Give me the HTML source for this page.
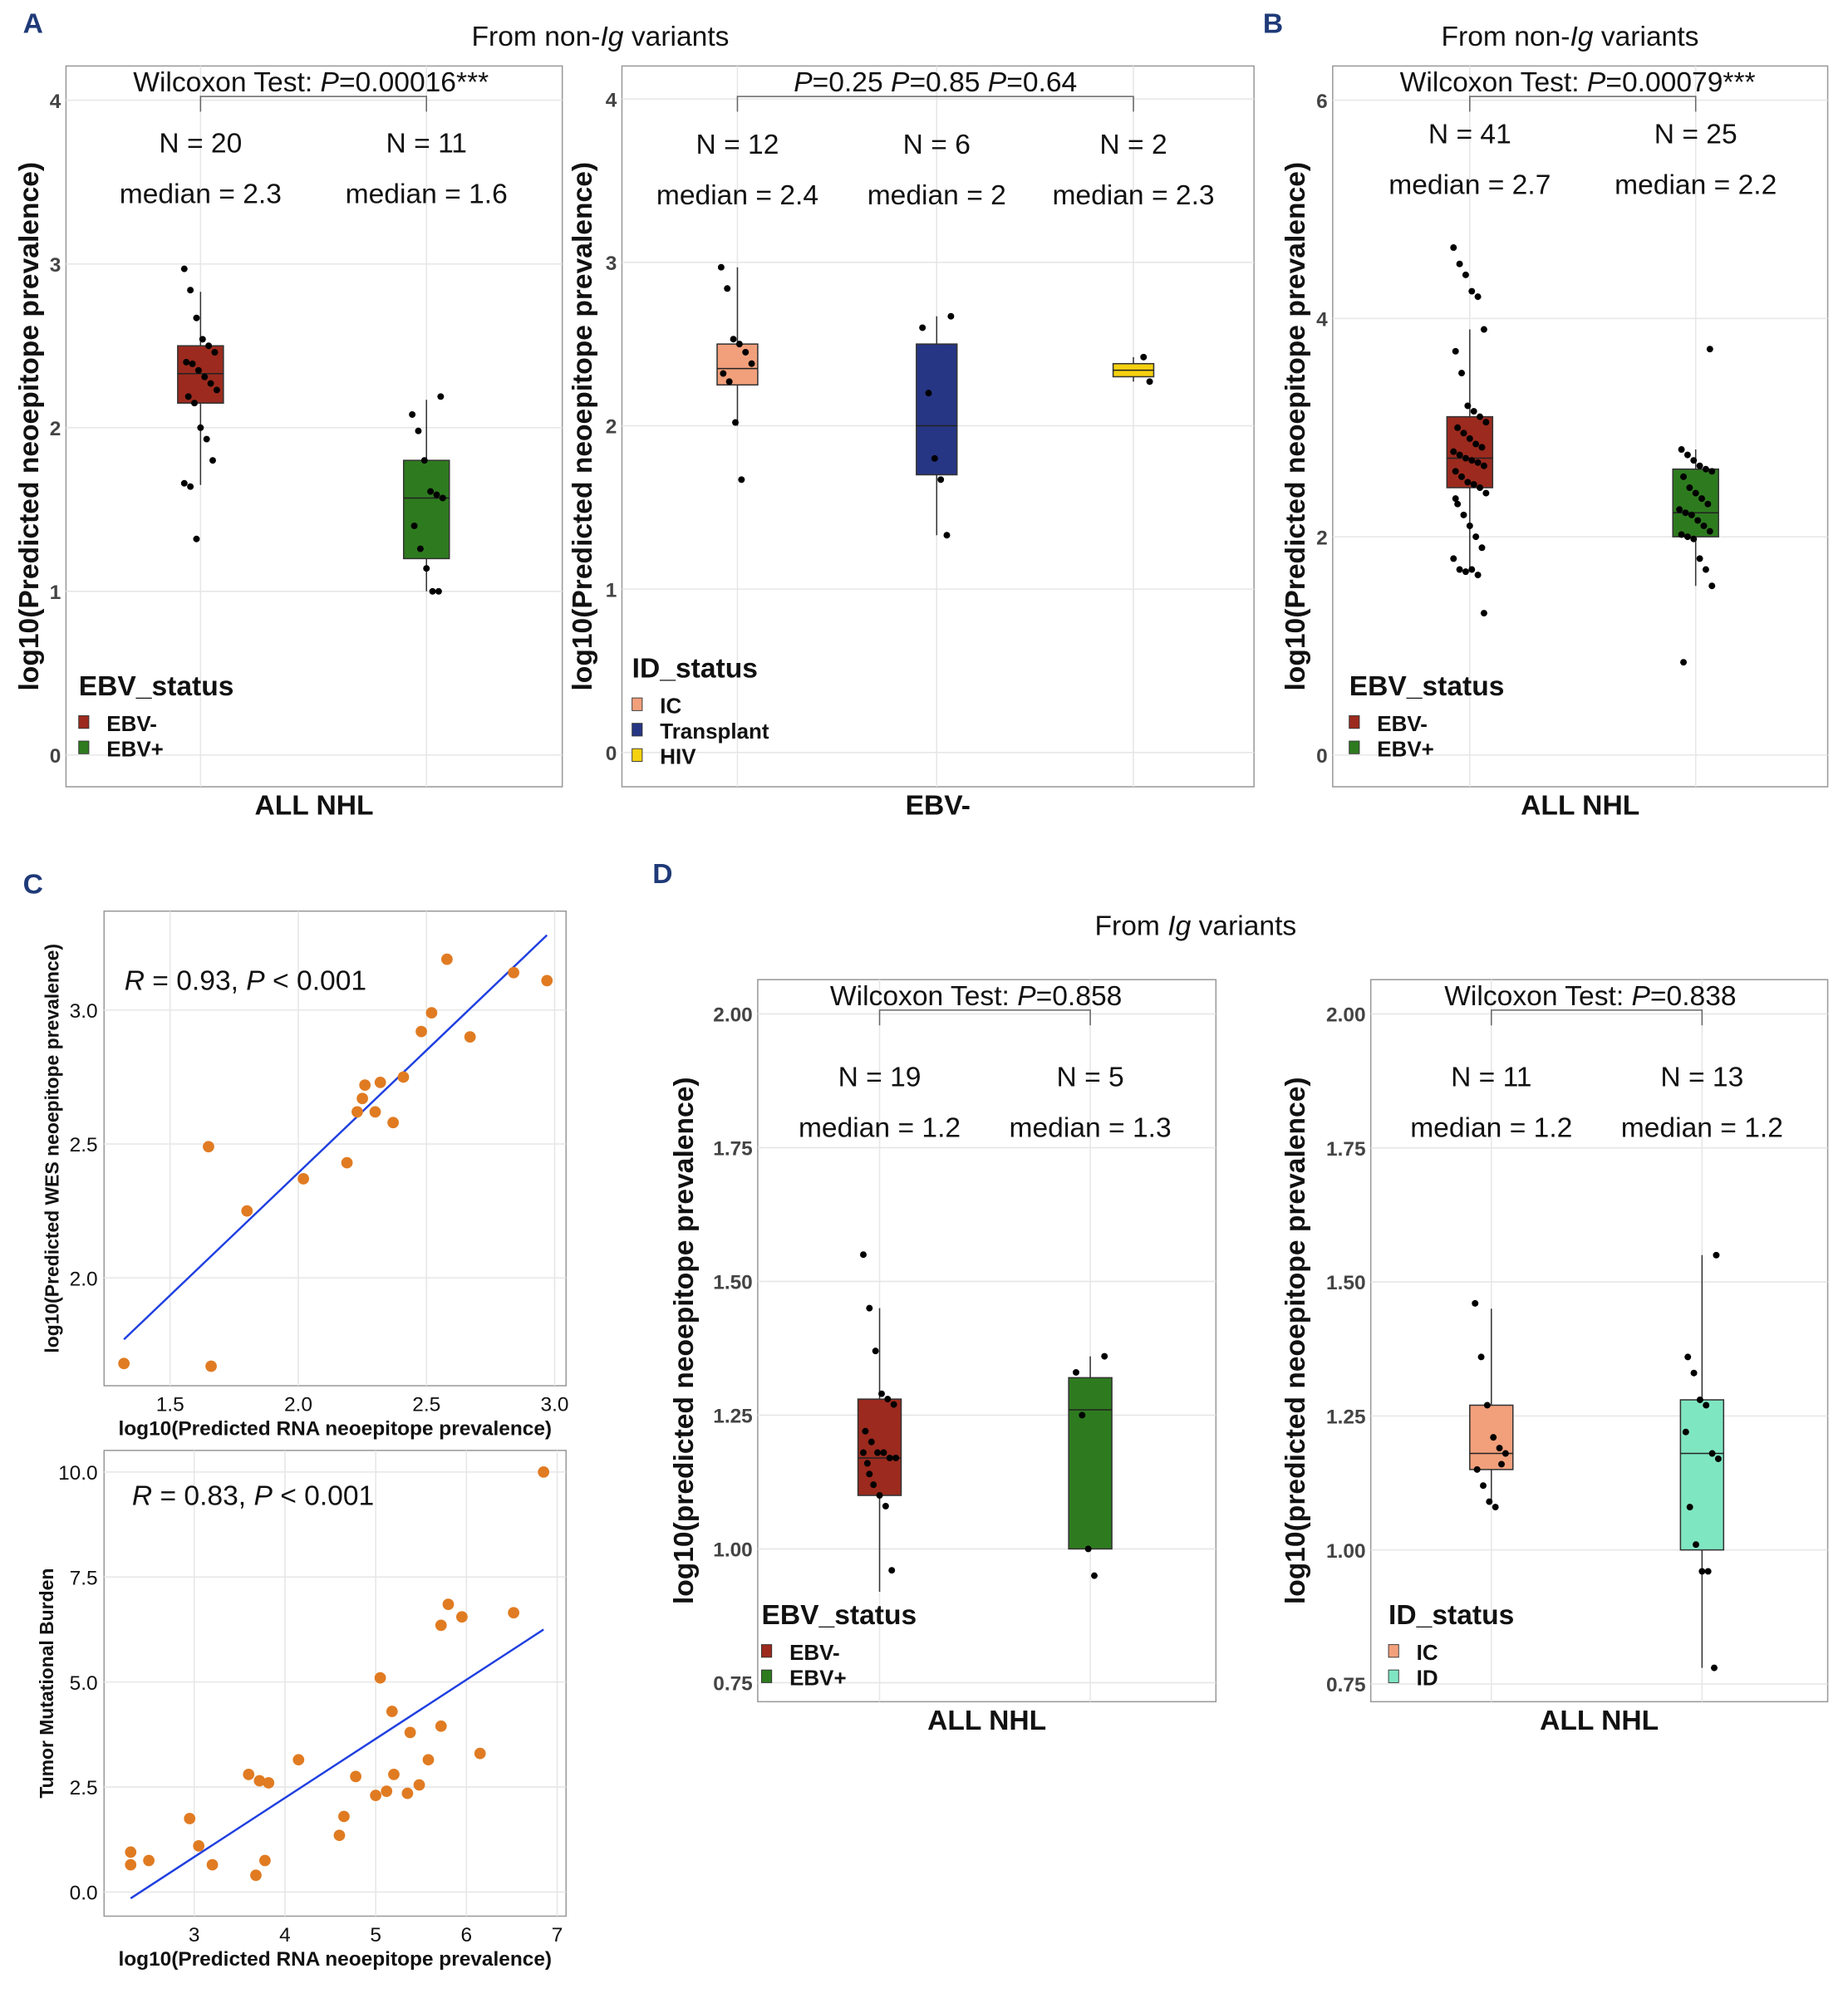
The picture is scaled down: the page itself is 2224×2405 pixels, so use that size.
<!DOCTYPE html>
<html><head><meta charset="utf-8"><style>
body{margin:0;background:#fff}
svg{display:block;font-family:"Liberation Sans",sans-serif}
.t{font-size:22px;fill:#111}
.ax{font-size:16px;fill:#444;font-weight:bold}
.al{font-size:22px;font-weight:bold;fill:#111}
.lt{font-size:22px;font-weight:bold;fill:#111}
.li{font-size:17px;font-weight:bold;fill:#111}
.pl{font-size:22px;font-weight:bold;fill:#1f3a78}
.grid{stroke:#e6e6e6;stroke-width:1}
</style></head><body>
<svg id="s" width="2224" height="2405" viewBox="0 0 1456 1574.5" xmlns="http://www.w3.org/2000/svg"></svg>
<script>
// ---------- data ----------
const aCats=["EBV-","EBV+"];
const aStats=[[1.65,2.15,2.33,2.5,2.83],[1.0,1.2,1.57,1.8,2.17]];
const aPts=[[2.97,2.84,2.67,2.54,2.5,2.46,2.4,2.39,2.35,2.31,2.27,2.23,2.19,2.15,2.0,1.93,1.8,1.66,1.64,1.32],[2.19,2.08,1.98,1.8,1.61,1.59,1.57,1.4,1.26,1.14,1.0,1.0]];
const a2Cats=["IC","Transplant","HIV"];
const a2Stats=[[2.0,2.25,2.35,2.5,2.97],[1.33,1.7,2.0,2.5,2.67],[2.27,2.3,2.34,2.38,2.42]];
const a2Pts=[[2.97,2.84,2.53,2.5,2.45,2.38,2.32,2.27,2.02,1.67],[2.67,2.6,2.2,1.8,1.67,1.33],[2.42,2.27]];
const bStats=[[1.7,2.45,2.72,3.1,3.9],[1.55,2.0,2.22,2.62,2.8]];
const bPts=[[4.65,4.5,4.4,4.25,4.2,3.9,3.7,3.5,3.2,3.15,3.1,3.05,3.0,2.95,2.9,2.85,2.82,2.78,2.75,2.72,2.7,2.68,2.65,2.6,2.55,2.5,2.48,2.45,2.4,2.3,2.2,2.1,2.0,1.9,1.8,1.7,1.68,1.7,1.65,1.3,2.35],
 [3.72,2.8,2.75,2.7,2.65,2.62,2.6,2.55,2.45,2.4,2.35,2.3,2.25,2.22,2.2,2.15,2.1,2.05,2.02,2.0,1.98,1.8,1.7,1.55,0.85]];
const dStats=[[0.92,1.1,1.17,1.28,1.45],[1.0,1.0,1.26,1.32,1.36]];
const dPts=[[1.55,1.45,1.37,1.29,1.28,1.27,1.22,1.2,1.18,1.18,1.17,1.17,1.16,1.12,1.1,1.08,0.96,1.18,1.14],[1.36,1.33,1.25,1.0,0.95]];
const d2Stats=[[1.09,1.15,1.18,1.27,1.45],[0.78,1.0,1.18,1.28,1.55]];
const d2Pts=[[1.46,1.36,1.27,1.21,1.19,1.18,1.15,1.12,1.09,1.08,1.16],[1.55,1.36,1.33,1.28,1.27,1.18,1.17,1.08,1.01,0.96,0.96,0.78,1.22]];
const c1X=[1.32,1.65,1.66,1.8,2.02,2.19,2.23,2.25,2.26,2.3,2.32,2.37,2.41,2.48,2.52,2.58,2.67,2.84,2.97];
const c1Y=[1.68,2.49,1.67,2.25,2.37,2.43,2.62,2.67,2.72,2.62,2.73,2.58,2.75,2.92,2.99,3.19,2.9,3.14,3.11];
const c2X=[2.3,2.3,2.5,2.95,3.05,3.2,3.6,3.68,3.72,3.78,3.82,4.15,4.6,4.65,4.78,5.0,5.05,5.12,5.18,5.2,5.35,5.38,5.48,5.58,5.72,5.72,5.8,5.95,6.15,6.52,6.85];
const c2Y=[0.95,0.65,0.75,1.75,1.1,0.65,2.8,0.4,2.65,0.75,2.6,3.15,1.35,1.8,2.75,2.3,5.1,2.4,4.3,2.8,2.35,3.8,2.55,3.15,6.35,3.95,6.85,6.55,3.3,6.65,10.0];
const cLine1=[1.32,1.77,2.97,3.28];
const cLine2=[2.3,-0.15,6.85,6.25];
// ---------- helpers ----------
const S=document.getElementById('s');const NS="http://www.w3.org/2000/svg";
function el(tag,at,parent,txt){const e=document.createElementNS(NS,tag);for(const k in at)e.setAttribute(k,at[k]);if(txt!==undefined)e.textContent=txt;(parent||S).appendChild(e);return e;}
function grp(name){const g=el('g',{});return g;}
function lin(v0,p0,v1,p1){return v=>p0+(v-v0)*(p1-p0)/(v1-v0);}
function txt(g,x,y,s,cls,anchor,name,rot){const t=el('text',{x:x,y:y,class:cls,'text-anchor':anchor||'middle'},g,s);if(rot)t.setAttribute('transform','rotate(-90 '+x+' '+y+')');return t;}
function jit(i){return ((i*37)%17-8)*1.6;}

function boxPanel(o){
  const g=grp(o.name);
  el('rect',{x:o.x0,y:o.y0,width:o.x1-o.x0,height:o.y1-o.y0,fill:'#fff',stroke:'#999','stroke-width':1},g);
  const y=lin(o.tk[0],o.tp[0],o.tk[1],o.tp[1]);
  o.ticks.forEach(t=>{const yy=y(t);el('line',{x1:o.x0,x2:o.x1,y1:yy,y2:yy,class:'grid'},g);
    txt(g,o.x0-4,yy+6,o.fmt?t.toFixed(2):String(t),'ax','end','y-tick-label');});
  o.cx.forEach(c=>el('line',{x1:c,x2:c,y1:o.y0,y2:o.y1,class:'grid'},g));
  o.stats.forEach((s,i)=>{const c=o.cx[i],w=o.bw;
    el('line',{x1:c,x2:c,y1:y(s[0]),y2:y(s[4]),stroke:'#333','stroke-width':1},g);
    const b=el('rect',{x:c-w/2,y:y(s[3]),width:w,height:y(s[1])-y(s[3]),fill:o.col[i],stroke:'#333','stroke-width':1},g);
    
    el('line',{x1:c-w/2,x2:c+w/2,y1:y(s[2]),y2:y(s[2]),stroke:'#222','stroke-width':1},g);
    o.pts[i].forEach((p,j)=>{const d=el('circle',{cx:c+jit(j+i*5),cy:y(p),r:2.6,fill:'#000'},g);
      });
  });
  const by=o.y0+24;
  el('path',{d:`M${o.cx[0]} ${by+12}V${by}H${o.cx[o.cx.length-1]}V${by+12}`,fill:'none',stroke:'#666'},g);
  txt(g,o.ptx,o.y0+20,'','t','middle','p-value-label').innerHTML=o.ptext;
  o.cats.forEach((c,i)=>{txt(g,o.cx[i],o.ny,o.n[i],'t','middle','n-label');txt(g,o.cx[i],o.ny+40,o.med[i],'t','middle','median-label');});
  txt(g,(o.x0+o.x1)/2,o.y1+22,o.xl,'al','middle','x-axis-title');
  txt(g,o.ylx,(o.y0+o.y1)/2,o.yl,'al','middle','y-axis-title',true);
  txt(g,o.lx,o.ly,o.lt,'lt','start','legend-title');
  o.cats.forEach((c,i)=>{const yy=o.ly+22+i*20;
    const r=el('rect',{x:o.lx,y:yy-6,width:8,height:10,fill:o.col[i],stroke:'#333','stroke-width':0.6},g);
    
    const t=txt(g,o.lx+22,yy+6,c,'li','start','legend-entry');});
}
const RED='#9c2a1e',GRN='#2e7b1f';
txt(S,26,26,'A','pl','middle','panel-label-a');
txt(S,473,36,'','t','middle','title-a').innerHTML='From non-<tspan font-style="italic">Ig</tspan> variants';
txt(S,1003,26,'B','pl','middle','panel-label-b');
txt(S,1237,36,'','t','middle','title-b').innerHTML='From non-<tspan font-style="italic">Ig</tspan> variants';
txt(S,26,704,'C','pl','middle','panel-label-c');
txt(S,522,696,'D','pl','middle','panel-label-d');
txt(S,942,737,'','t','middle','title-d').innerHTML='From <tspan font-style="italic">Ig</tspan> variants';

boxPanel({name:'panel-a-ebv',x0:52,x1:443,y0:52,y1:620,tk:[0,4],tp:[595,79],ticks:[0,1,2,3,4],cx:[158,336],bw:36,cats:aCats,col:[RED,GRN],stats:aStats,pts:aPts,
 ptx:245,ptext:'Wilcoxon Test: <tspan font-style="italic">P</tspan>=0.00016***',n:['N = 20','N = 11'],med:['median = 2.3','median = 1.6'],ny:120,xl:'ALL NHL',yl:'log10(Predicted neoepitope prevalence)',ylx:30,lt:'EBV_status',lx:62,ly:548});
boxPanel({name:'panel-a-id',x0:490,x1:988,y0:52,y1:620,tk:[0,4],tp:[593,78],ticks:[0,1,2,3,4],cx:[581,738,893],bw:32,cats:a2Cats,col:['#f2a07b','#263684','#f5d10f'],stats:a2Stats,pts:a2Pts,
 ptx:737,ptext:'<tspan font-style="italic">P</tspan>=0.25  <tspan font-style="italic">P</tspan>=0.85  <tspan font-style="italic">P</tspan>=0.64',n:['N = 12','N = 6','N = 2'],med:['median = 2.4','median = 2','median = 2.3'],ny:121,xl:'EBV-',yl:'log10(Predicted neoepitope prevalence)',ylx:466,lt:'ID_status',lx:498,ly:534});
boxPanel({name:'panel-b-ebv',x0:1050,x1:1440,y0:52,y1:620,tk:[0,6],tp:[595,79],ticks:[0,2,4,6],cx:[1158,1336],bw:36,cats:aCats,col:[RED,GRN],stats:bStats,pts:bPts,
 ptx:1243,ptext:'Wilcoxon Test: <tspan font-style="italic">P</tspan>=0.00079***',n:['N = 41','N = 25'],med:['median = 2.7','median = 2.2'],ny:113,xl:'ALL NHL',yl:'log10(Predicted neoepitope prevalence)',ylx:1028,lt:'EBV_status',lx:1063,ly:548});
boxPanel({name:'panel-d-ebv',x0:597,x1:958,y0:772,y1:1341,tk:[0.75,2],tp:[1326,799],ticks:[0.75,1,1.25,1.5,1.75,2],fmt:1,cx:[693,859],bw:34,cats:aCats,col:[RED,GRN],stats:dStats,pts:dPts,
 ptx:769,ptext:'Wilcoxon Test: <tspan font-style="italic">P</tspan>=0.858',n:['N = 19','N = 5'],med:['median = 1.2','median = 1.3'],ny:856,xl:'ALL NHL',yl:'log10(predicted neoepitope prevalence)',ylx:546,lt:'EBV_status',lx:600,ly:1280});
boxPanel({name:'panel-d-id',x0:1080,x1:1440,y0:772,y1:1341,tk:[0.75,2],tp:[1327,799],ticks:[0.75,1,1.25,1.5,1.75,2],fmt:1,cx:[1175,1341],bw:34,cats:['IC','ID'],col:['#f2a07b','#7fe6c2'],stats:d2Stats,pts:d2Pts,
 ptx:1253,ptext:'Wilcoxon Test: <tspan font-style="italic">P</tspan>=0.838',n:['N = 11','N = 13'],med:['median = 1.2','median = 1.2'],ny:856,xl:'ALL NHL',yl:'log10(predicted neoepitope prevalence)',ylx:1028,lt:'ID_status',lx:1094,ly:1280});

function scatter(o){
  const g=grp(o.name);
  el('rect',{x:o.x0,y:o.y0,width:o.x1-o.x0,height:o.y1-o.y0,fill:'#fff',stroke:'#999'},g);
  const x=lin(o.xk[0],o.xp[0],o.xk[1],o.xp[1]),y=lin(o.yk[0],o.yp[0],o.yk[1],o.yp[1]);
  o.xt.forEach(t=>{el('line',{x1:x(t),x2:x(t),y1:o.y0,y2:o.y1,class:'grid'},g);txt(g,x(t),o.y1+20,o.xf(t),'t','middle','x-tick-label').setAttribute('style','font-size:16px');});
  o.yt.forEach(t=>{el('line',{x1:o.x0,x2:o.x1,y1:y(t),y2:y(t),class:'grid'},g);txt(g,o.x0-5,y(t)+6,o.yf(t),'t','end','y-tick-label').setAttribute('style','font-size:16px');});
  const L=o.line;const ln=el('line',{x1:x(L[0]),y1:y(L[1]),x2:x(L[2]),y2:y(L[3]),stroke:'#1f3fe0','stroke-width':1.6},g);
  
  o.X.forEach((v,i)=>{const c=el('circle',{cx:x(v),cy:y(o.Y[i]),r:4.5,fill:'#e07b22'},g);});
  txt(g,o.rx,o.ry,'','t','start','correlation-label').innerHTML='<tspan font-style="italic">R</tspan> = '+o.r+', <tspan font-style="italic">P</tspan> &lt; 0.001';
  txt(g,(o.x0+o.x1)/2,o.y1+39,o.xl,'t','middle','x-axis-title').setAttribute('style','font-size:16px;font-weight:bold');
  txt(g,o.ylx,(o.y0+o.y1)/2,o.yl,'t','middle','y-axis-title',true).setAttribute('style','font-size:15px;font-weight:bold');
}
scatter({name:'panel-c-wes',x0:82,x1:446,y0:718,y1:1092,xk:[1.5,3],xp:[134,437],yk:[2,3],yp:[1007,796],xt:[1.5,2,2.5,3],yt:[2,2.5,3],xf:t=>t.toFixed(1),yf:t=>t.toFixed(1),
 X:c1X,Y:c1Y,line:cLine1,rx:98,ry:780,r:'0.93',xl:'log10(Predicted RNA neoepitope prevalence)',yl:'log10(Predicted WES neoepitope prevalence)',ylx:46});
scatter({name:'panel-c-tmb',x0:82,x1:446,y0:1143,y1:1510,xk:[3,7],xp:[153,439],yk:[0,10],yp:[1491,1160],xt:[3,4,5,6,7],yt:[0,2.5,5,7.5,10],xf:t=>String(t),yf:t=>t.toFixed(1),
 X:c2X,Y:c2Y,line:cLine2,rx:104,ry:1186,r:'0.83',xl:'log10(Predicted RNA neoepitope prevalence)',yl:'Tumor Mutational Burden',ylx:42});
</script>
</body></html>
